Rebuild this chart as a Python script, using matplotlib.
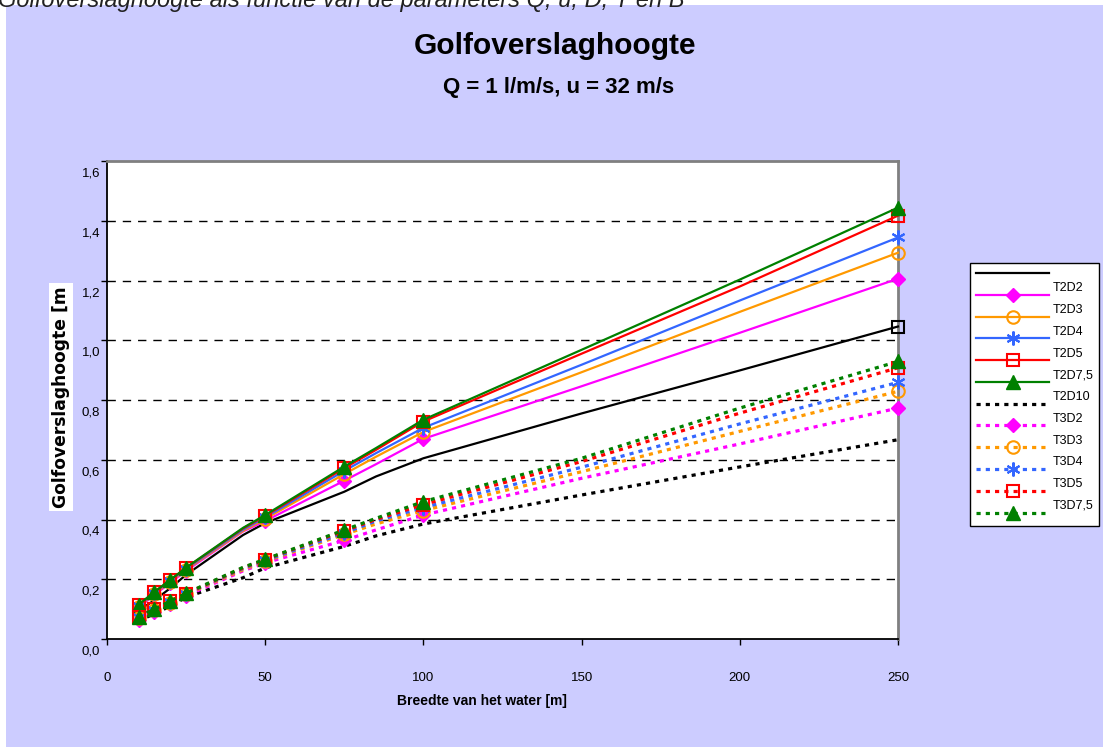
import matplotlib
matplotlib.use("Agg")
import matplotlib.pyplot as plt
from matplotlib.lines import Line2D
from matplotlib.patches import Rectangle
import matplotlib.transforms as mtransforms

plt.rcParams['font.family'] = ['Liberation Sans', 'DejaVu Sans']

# ---------------- data ----------------
x_vals = [10, 15, 20, 25, 43, 50, 75, 85, 100, 150, 200, 250]
mark_idx = [0, 1, 2, 3, 5, 6, 8, 11]

t2d10 = [0.095, 0.13, 0.17, 0.215, 0.348, 0.388, 0.493, 0.544, 0.605, 0.755, 0.899, 1.046]
t2d2 = [0.105, 0.148, 0.188, 0.228, 0.36, 0.395, 0.53, 0.585, 0.67, 0.846, 1.025, 1.206]
t2d3 = [0.108, 0.152, 0.192, 0.232, 0.362, 0.402, 0.552, 0.61, 0.693, 0.893, 1.095, 1.293]
t2d4 = [0.11, 0.155, 0.195, 0.235, 0.366, 0.407, 0.563, 0.622, 0.707, 0.918, 1.133, 1.344]
t2d5 = [0.113, 0.157, 0.197, 0.238, 0.37, 0.412, 0.572, 0.633, 0.728, 0.955, 1.18, 1.417]
t2d75 = [0.115, 0.158, 0.198, 0.239, 0.372, 0.415, 0.577, 0.639, 0.734, 0.968, 1.203, 1.444]

t3d10 = [0.06, 0.085, 0.11, 0.14, 0.205, 0.238, 0.31, 0.345, 0.385, 0.482, 0.576, 0.667]
t3d2 = [0.065, 0.092, 0.118, 0.145, 0.228, 0.255, 0.33, 0.365, 0.415, 0.538, 0.653, 0.773]
t3d3 = [0.07, 0.096, 0.122, 0.149, 0.232, 0.26, 0.35, 0.385, 0.43, 0.56, 0.695, 0.829]
t3d4 = [0.072, 0.098, 0.124, 0.151, 0.236, 0.263, 0.355, 0.395, 0.44, 0.575, 0.72, 0.859]
t3d5 = [0.074, 0.1, 0.126, 0.152, 0.238, 0.266, 0.362, 0.40, 0.45, 0.594, 0.756, 0.908]
t3d75 = [0.075, 0.1, 0.127, 0.153, 0.24, 0.267, 0.365, 0.404, 0.46, 0.605, 0.773, 0.929]

legend_labels = ['', 'T2D2', 'T2D3', 'T2D4', 'T2D5', 'T2D7,5', 'T2D10',
                 'T3D2', 'T3D3', 'T3D4', 'T3D5', 'T3D7,5']
y_ticks = [0.0, 0.2, 0.4, 0.6, 0.8, 1.0, 1.2, 1.4, 1.6]
y_ticklabels = ['0,0', '0,2', '0,4', '0,6', '0,8', '1,0', '1,2', '1,4', '1,6']
x_ticks = [0, 50, 100, 150, 200, 250]
x_ticklabels = ['0', '50', '100', '150', '200', '250']

caption = 'Golfoverslaghoogte als functie van de parameters Q, u, D, T en B'
title = 'Golfoverslaghoogte'
subtitle = 'Q = 1 l/m/s, u = 32 m/s'
xlabel = 'Breedte van het water [m]'
ylabel = 'Golfoverslaghoogte [m'

# ---------------- figure ----------------
W, H = 1103, 747
fig = plt.figure(figsize=(W / 100, H / 100), dpi=100)
fig.patch.set_facecolor('white')
fig.patches.append(Rectangle((6 / W, 0), 1 - 6 / W, 1 - 5 / H, transform=fig.transFigure,
                             facecolor='#CCCCFF', edgecolor='none', zorder=-5))
fig.text(-2 / W, 1 - 1 / H, caption, fontsize=17, style='italic', color='#222222',
         ha='left', va='center')
fig.text(555 / W, 1 - 46 / H, title, fontsize=21.5, fontweight='bold', ha='center', va='center')
fig.text(559 / W, 1 - 88 / H, subtitle, fontsize=16, fontweight='bold', ha='center', va='center')

ax = fig.add_axes([107 / W, 1 - 639 / H, (898 - 107) / W, (639 - 161) / H], zorder=2)
ax.set_facecolor('white')
ax.set_xlim(0, 250)
ax.set_ylim(0, 1.6)

for yv in y_ticks[1:-1]:
    ax.axhline(yv, color='black', lw=1, linestyle=(0, (6, 5)), zorder=1)

C_MAG, C_ORA, C_BLU, C_RED, C_GRN = '#FF00FF', '#FF9900', '#3366FF', '#FF0000', '#008000'
solid = dict(lw=1.6, linestyle='-')
dot = dict(lw=2.3, linestyle=(0, (1.3, 1.6)), dash_capstyle='butt')

mk = {
    'mag': dict(marker='D', ms=7, mfc=C_MAG, mec=C_MAG),
    'ora': dict(marker='o', ms=9, mfc='none', mec=C_ORA, mew=1.5),
    'blu': dict(marker=(6, 2, 0), ms=10, mec=C_BLU, mew=1.5),
    'red': dict(marker='s', ms=9, mfc='none', mec=C_RED, mew=1.5),
    'grn': dict(marker='^', ms=10, mfc=C_GRN, mec=C_GRN),
}

ax.plot(x_vals, t2d10, color='black', marker='s', ms=9, mfc='none', mec='black', mew=1.5,
        markevery=[len(x_vals) - 1], zorder=3, clip_on=False, **solid)
ax.plot(x_vals, t2d2, color=C_MAG, markevery=mark_idx, zorder=3, clip_on=False, **solid, **mk['mag'])
ax.plot(x_vals, t2d3, color=C_ORA, markevery=mark_idx, zorder=3, clip_on=False, **solid, **mk['ora'])
ax.plot(x_vals, t2d4, color=C_BLU, markevery=mark_idx, zorder=3, clip_on=False, **solid, **mk['blu'])
ax.plot(x_vals, t2d5, color=C_RED, markevery=mark_idx, zorder=3, clip_on=False, **solid, **mk['red'])
ax.plot(x_vals, t2d75, color=C_GRN, markevery=mark_idx, zorder=3, clip_on=False, **solid, **mk['grn'])
ax.plot(x_vals, t3d10, color='black', zorder=3, clip_on=False, **dot)
ax.plot(x_vals, t3d2, color=C_MAG, markevery=mark_idx, zorder=3, clip_on=False, **dot, **mk['mag'])
ax.plot(x_vals, t3d3, color=C_ORA, markevery=mark_idx, zorder=3, clip_on=False, **dot, **mk['ora'])
ax.plot(x_vals, t3d4, color=C_BLU, markevery=mark_idx, zorder=3, clip_on=False, **dot, **mk['blu'])
ax.plot(x_vals, t3d5, color=C_RED, markevery=mark_idx, zorder=3, clip_on=False, **dot, **mk['red'])
ax.plot(x_vals, t3d75, color=C_GRN, markevery=mark_idx, zorder=3, clip_on=False, **dot, **mk['grn'])

for side in ['left', 'bottom']:
    ax.spines[side].set_color('black')
    ax.spines[side].set_linewidth(1.3)
for side in ['top', 'right']:
    ax.spines[side].set_color('#808080')
    ax.spines[side].set_linewidth(2)

ax.set_yticks(y_ticks)
ax.set_yticklabels(y_ticklabels)
ax.set_xticks(x_ticks)
ax.set_xticklabels(x_ticklabels)
ax.tick_params(axis='both', direction='out', length=4, width=1, labelsize=9.5, colors='black')
ax.tick_params(axis='y', pad=1)
ax.tick_params(axis='x', pad=20)
offset = mtransforms.ScaledTranslation(0, -11 / 100, fig.dpi_scale_trans)
for lab in ax.get_yticklabels():
    lab.set_transform(lab.get_transform() + offset)

fig.text(482 / W, 1 - 701 / H, xlabel, fontsize=10, fontweight='bold', ha='center', va='center')
fig.text(61 / W, 1 - 397 / H, ylabel, fontsize=12.3, fontweight='bold', rotation=90,
         ha='center', va='center', family=['DejaVu Sans'],
         bbox=dict(facecolor='white', edgecolor='none', pad=2))

# ---------------- legend ----------------
handles = [
    Line2D([], [], color='black', **solid),
    Line2D([], [], color=C_MAG, **solid, **mk['mag']),
    Line2D([], [], color=C_ORA, **solid, **mk['ora']),
    Line2D([], [], color=C_BLU, **solid, **mk['blu']),
    Line2D([], [], color=C_RED, **solid, **mk['red']),
    Line2D([], [], color=C_GRN, **solid, **mk['grn']),
    Line2D([], [], color='black', **dot),
    Line2D([], [], color=C_MAG, **dot, **mk['mag']),
    Line2D([], [], color=C_ORA, **dot, **mk['ora']),
    Line2D([], [], color=C_BLU, **dot, **mk['blu']),
    Line2D([], [], color=C_RED, **dot, **mk['red']),
    Line2D([], [], color=C_GRN, **dot, **mk['grn']),
]
leg = fig.legend(handles, legend_labels, loc='upper left',
                 bbox_to_anchor=(970 / W, 1 - 263 / H), bbox_transform=fig.transFigure,
                 borderaxespad=0, fontsize=9, handlelength=5.9, handletextpad=0.25,
                 labelspacing=0.78, numpoints=1, fancybox=False, framealpha=1,
                 edgecolor='black', borderpad=0.45)
leg.get_frame().set_linewidth(1)
for t in leg.get_texts():
    t.set_position((0, 8))

fig.savefig('out.png', dpi=100, facecolor=fig.get_facecolor())
